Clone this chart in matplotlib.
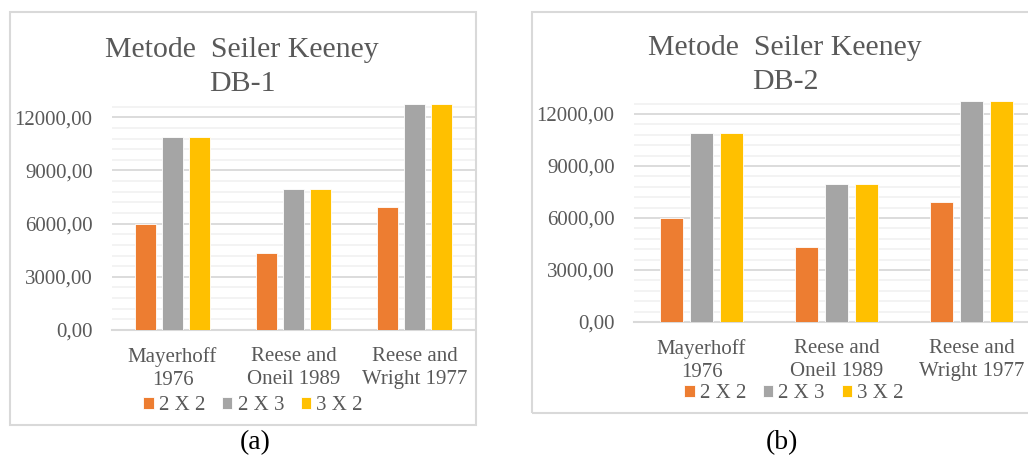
import numpy as np
import matplotlib
matplotlib.use("Agg")
import matplotlib.pyplot as plt
from matplotlib.patches import Rectangle
from matplotlib.ticker import MultipleLocator, FuncFormatter

plt.rcParams['font.family'] = ['Liberation Serif', 'DejaVu Serif']

categories = ['Mayerhoff\n1976', 'Reese and\nOneil 1989', 'Reese and\nWright 1977']
series = ['2 X 2', '2 X 3', '3 X 2']
db1 = {'2 X 2': [6000, 4320, 6950],
       '2 X 3': [10900, 7950, 12750],
       '3 X 2': [10900, 7950, 12750]}
db2 = {'2 X 2': [6000, 4320, 6950],
       '2 X 3': [10900, 7950, 12750],
       '3 X 2': [10900, 7950, 12750]}
colors = ['#ED7D31', '#A5A5A5', '#FFC000']

W, H = 1028, 459
fig = plt.figure(figsize=(W / 100, H / 100), dpi=100)
txt = '#595959'


def fx(x):
    return x / W


def fy(y):
    return 1 - y / H


def panel(data, title, caption, box, plot, title_xy, legend_xy, caption_xy):
    bl, bt, br, bb = box
    fig.patches.append(Rectangle((fx(bl), fy(bb)), fx(br - bl), (bb - bt) / H,
                                 transform=fig.transFigure, fill=False,
                                 edgecolor='#D9D9D9', linewidth=1.5))
    l, t, r, b = plot
    ax = fig.add_axes([fx(l), fy(b), fx(r - l), (b - t) / H])
    x = np.arange(len(categories))
    width, step = 0.174, 0.223
    for i, s in enumerate(series):
        ax.bar(x + (i - 1) * step, data[s], width, color=colors[i],
               edgecolor='white', linewidth=0.6, label=s, zorder=3)
    ax.set_xlim(-0.5, 2.5)
    ax.set_ylim(0, 12750)
    ax.yaxis.set_major_locator(MultipleLocator(3000))
    ax.yaxis.set_minor_locator(MultipleLocator(600))
    ax.yaxis.set_major_formatter(FuncFormatter(lambda v, p: f'{v:.2f}'.replace('.', ',')))
    ax.grid(axis='y', which='major', color='#D9D9D9', linewidth=1.3, zorder=0)
    ax.grid(axis='y', which='minor', color='#F2F2F2', linewidth=1.3, zorder=0)
    for side in ['top', 'right', 'left']:
        ax.spines[side].set_visible(False)
    ax.spines['bottom'].set_color('#D9D9D9')
    ax.spines['bottom'].set_linewidth(1.5)
    ax.set_xticks(x)
    ax.set_xticklabels(categories, fontsize=15, color=txt, linespacing=1.3)
    ax.tick_params(axis='y', which='both', length=0, labelsize=15, labelcolor=txt, pad=14)
    ax.tick_params(axis='x', length=0, pad=12)
    ax.set_facecolor('none')

    fig.text(fx(title_xy[0]), fy(title_xy[1]), title, ha='center', va='center',
             fontsize=21.5, color=txt, linespacing=1.4)
    fig.legend(*ax.get_legend_handles_labels(), loc='center',
               bbox_to_anchor=(fx(legend_xy[0]), fy(legend_xy[1])), ncol=3,
               frameon=False, fontsize=15, handlelength=0.5, handleheight=0.5,
               handletextpad=0.25, columnspacing=0.8, labelcolor=txt,
               borderaxespad=0, borderpad=0)
    fig.text(fx(caption_xy[0]), fy(caption_xy[1]), caption, ha='center',
             va='center', fontsize=20, color='black')


panel(db1, 'Metode  Seiler Keeney\nDB-1', '(a)',
      box=(10, 12, 476, 425), plot=(112, 104, 475, 330),
      title_xy=(242, 67), legend_xy=(253, 406), caption_xy=(255, 443))
panel(db2, 'Metode  Seiler Keeney\nDB-2', '(b)',
      box=(532, 12, 1040, 413), plot=(634, 101, 1039, 322),
      title_xy=(785, 65), legend_xy=(794, 394), caption_xy=(782, 443))

fig.savefig('out.png', dpi=100, facecolor='white')
